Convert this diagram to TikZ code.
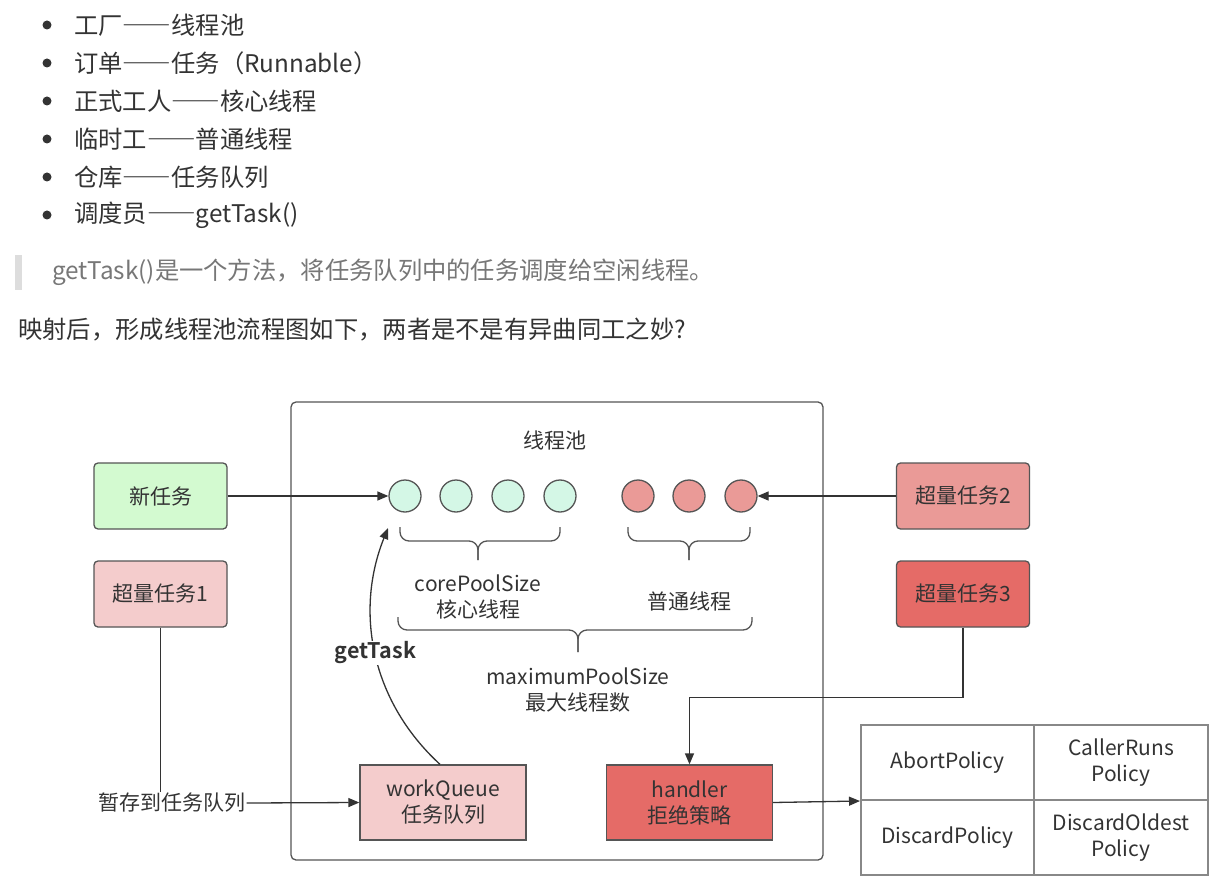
\documentclass[tikz,border=0pt]{standalone}
\usepackage{fontspec}
\setmainfont{Noto Sans CJK SC}[BoldFont={Noto Sans CJK SC Bold}]
\usetikzlibrary{arrows.meta}
\newcommand\fdash{{\addfontfeatures{CharacterWidth=Full}——}}
\definecolor{txt}{HTML}{333333}
\definecolor{qtxt}{HTML}{777777}
\definecolor{qbar}{HTML}{DDDDDD}
\definecolor{edge}{HTML}{555555}
\definecolor{green1}{HTML}{D3FAD0}
\definecolor{mint}{HTML}{D4F7E6}
\definecolor{red1}{HTML}{F4CCCC}
\definecolor{red2}{HTML}{EA9A97}
\definecolor{red3}{HTML}{E56B67}
\definecolor{tbl}{HTML}{888888}
\tikzset{
  toptext/.style={anchor=west, inner sep=0pt, text=txt, font=\fontsize{24.3}{29}\selectfont},
  bullet/.style={circle, fill=txt, minimum size=9pt, inner sep=0pt},
  dtext/.style={text=txt, font=\fontsize{21}{26}\selectfont, align=center, inner sep=1pt},
  task/.style={dtext, draw=edge, line width=1.3pt, rounded corners=4pt, minimum width=133pt, minimum height=66pt},
  qbox/.style={dtext, draw=edge, line width=1.3pt, minimum width=166pt, minimum height=75pt},
  thread/.style={circle, draw=edge, line width=1.3pt, minimum size=32pt, inner sep=0pt},
  cell/.style={dtext, draw=tbl, line width=2pt, minimum height=75pt},
  conn/.style={draw=txt, line width=1.3pt},
  arr/.style={conn, -{Triangle[length=11pt,width=9pt]}},
  brace/.style={draw=edge, line width=1.3pt, rounded corners=9pt},
}
\begin{document}
\begin{tikzpicture}[x=1pt,y=-1pt]
\useasboundingbox (0,0) rectangle (1230,890);
\fill[white] (0,0) rectangle (1230,890);

% top text
\foreach \i/\yy in {1/25,2/63,3/101,4/139,5/177,6/215}{\node[bullet] (b\i) at (47,\yy) {};}
\node[toptext] (l1) at (74,25) {工厂\fdash 线程池};
\node[toptext] (l2) at (74,63) {订单\fdash 任务（Runnable）};
\node[toptext] (l3) at (74,101) {正式工人\fdash 核心线程};
\node[toptext] (l4) at (74,139) {临时工\fdash 普通线程};
\node[toptext] (l5) at (74,177) {仓库\fdash 任务队列};
\node[toptext] (l6) at (74,215) {调度员\fdash getTask()};
\fill[qbar] (15,255) rectangle (22,290);
\node[toptext, text=qtxt] (q) at (52,272) {getTask()是一个方法，将任务队列中的任务调度给空闲线程。};
\node[toptext] (m) at (18,330) {映射后，形成线程池流程图如下，两者是不是有异曲同工之妙?};

% pool
\node[draw=edge, line width=1.3pt, rounded corners=5pt, minimum width=532pt, minimum height=458pt] (pool) at (557,631) {};
\node[dtext] (pooltitle) at (555,440) {线程池};

% task boxes
\node[task, fill=green1] (new) at (160.5,496) {新任务};
\node[task, fill=red1] (ex1) at (160.5,594) {超量任务1};
\node[task, fill=red2] (ex2) at (963,496) {超量任务2};
\node[task, fill=red3] (ex3) at (963,594) {超量任务3};

% threads
\node[thread, fill=mint] (c1) at (405,496) {};
\node[thread, fill=mint] (c2) at (456,496) {};
\node[thread, fill=mint] (c3) at (508,496) {};
\node[thread, fill=mint] (c4) at (560,496) {};
\node[thread, fill=red2] (r1) at (638,496) {};
\node[thread, fill=red2] (r2) at (689,496) {};
\node[thread, fill=red2] (r3) at (741,496) {};

% braces
\draw[brace] (400,527) -- (400,541) -- (478,541) -- (478,560);
\draw[brace] (560,527) -- (560,541) -- (478,541) -- (478,560);
\draw[brace] (628,527) -- (628,541) -- (689,541) -- (689,560);
\draw[brace] (750,527) -- (750,541) -- (689,541) -- (689,560);
\draw[brace] (398,617) -- (398,630) -- (578,630) -- (578,652);
\draw[brace] (752,617) -- (752,630) -- (578,630) -- (578,652);
\node[dtext] (core) at (478,597) {corePoolSize\\核心线程};
\node[dtext] (norm) at (689,601) {普通线程};
\node[dtext] (maxi) at (578,690) {maximumPoolSize\\最大线程数};

% queue and handler
\node[qbox, fill=red1] (wq) at (443,802.5) {workQueue\\任务队列};
\node[qbox, fill=red3] (hd) at (689.5,802.5) {handler\\拒绝策略};

% policy table
\node[cell, minimum width=173pt] (p1) at (947.5,762.5) {AbortPolicy};
\node[cell, minimum width=174pt] (p2) at (1121,762.5) {CallerRuns\\Policy};
\node[cell, minimum width=173pt] (p3) at (947.5,837.5) {DiscardPolicy};
\node[cell, minimum width=174pt] (p4) at (1121,837.5) {DiscardOldest\\Policy};

% connectors
\draw[arr] (new.east) -- (c1.west);
\draw[arr] (ex2.west) -- (r3.east);
\node[dtext, fill=white] (st) at (172,803) {暂存到任务队列};
\draw[conn] (ex1.south) -- (ex1.south |- st.north);
\draw[arr] (st.east) -- (wq.west);
\draw[arr] (ex3.south) -- ++(0,70) -| (hd.north);
\draw[arr] (hd.east) -- (p1.south west);
\coordinate (gt) at (388,528);
\draw[arr] ([xshift=-3pt]wq.north) .. controls (370,700) and (355,610) .. (gt)
  node[pos=0.5, fill=white, text=txt, inner sep=1pt, font=\bfseries\fontsize{21.5}{24}\selectfont] (gtl) {getTask};
\end{tikzpicture}
\end{document}
